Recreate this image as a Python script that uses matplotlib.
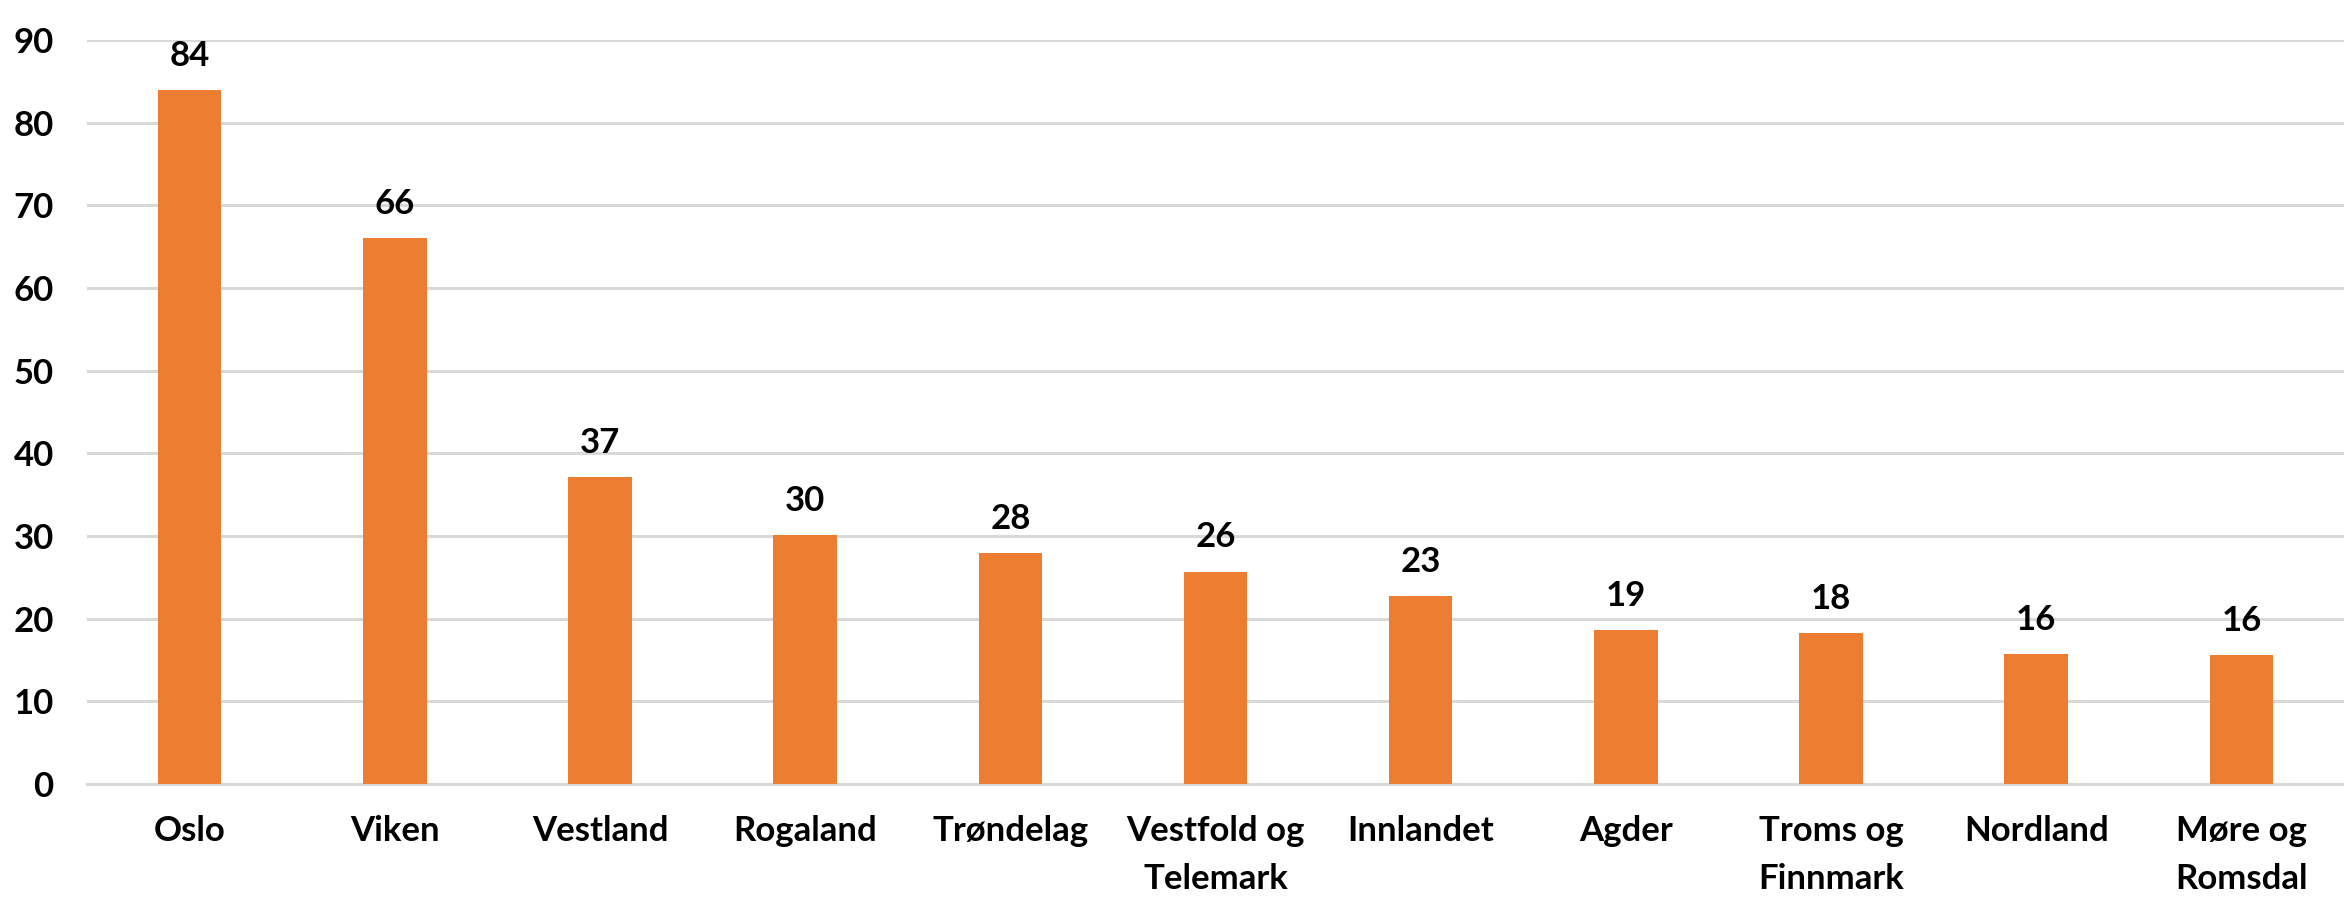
import matplotlib.pyplot as plt
import numpy as np

# fylker og verdier (lest av figuren)
regions = ['Oslo', 'Viken', 'Vestland', 'Rogaland', 'Trøndelag', 'Vestfold og\nTelemark',
           'Innlandet', 'Agder', 'Troms og\nFinnmark', 'Nordland', 'Møre og\nRomsdal']
values = [84.0, 66.0, 37.1, 30.1, 27.9, 25.7, 22.7, 18.6, 18.3, 15.7, 15.6]
yticks = [0, 10, 20, 30, 40, 50, 60, 70, 80, 90]

plt.rcParams['font.family'] = ['Lato', 'DejaVu Sans']
plt.rcParams['font.weight'] = 'bold'

fig = plt.figure(figsize=(23.44, 9.11), dpi=100)
ax = fig.add_axes([87 / 2344, 1 - 784 / 911, 1 - 87 / 2344, (784 - 40) / 911])

x = np.arange(len(regions))
bars = ax.bar(x, values, width=0.31, color='#ED7D31', zorder=3)

for bar, v in zip(bars, values):
    ax.annotate(f'{v:.0f}', xy=(bar.get_x() + bar.get_width() / 2, v),
                xytext=(0, 13), textcoords='offset points',
                ha='center', va='bottom', fontsize=25, fontweight='bold')

ax.set_xlim(-0.5, len(regions) - 0.5)
ax.set_ylim(0, 90)
ax.set_yticks(yticks)
ax.set_xticks(x)
ax.set_xticklabels(regions, linespacing=1.65)
ax.tick_params(axis='both', length=0, labelsize=25)
ax.tick_params(axis='y', pad=24)
ax.tick_params(axis='x', pad=22)
for lab in ax.get_xticklabels() + ax.get_yticklabels():
    lab.set_fontweight('bold')

ax.grid(axis='y', color='#D9D9D9', linewidth=2.2, zorder=0)
for s in ['top', 'right', 'left']:
    ax.spines[s].set_visible(False)
ax.spines['bottom'].set_color('#D9D9D9')
ax.spines['bottom'].set_linewidth(2.2)

plt.savefig('out.png', dpi=100)
plt.close()
